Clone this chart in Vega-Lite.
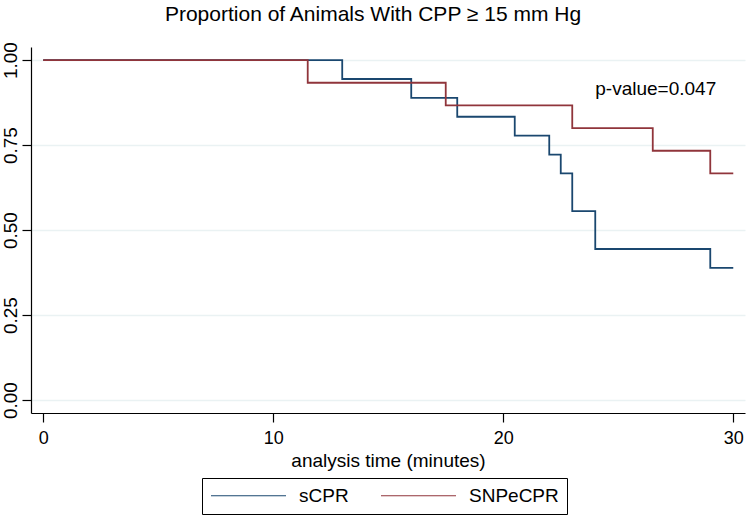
{
  "$schema": "https://vega.github.io/schema/vega-lite/v6.json",
  "autosize": "none",
  "width": 714,
  "height": 366,
  "padding": {"left": 31, "top": 47, "right": 2, "bottom": 104},
  "background": "white",
  "config": {
    "font": "Liberation Sans",
    "view": {"stroke": null},
    "axis": {"labelFont": "Liberation Sans", "titleFont": "Liberation Sans", "labelColor": "black", "titleColor": "black", "domainColor": "black", "tickColor": "black", "titleFontWeight": "normal"}
  },
  "title": {"text": "Proportion of Animals With CPP ≥ 15 mm Hg", "fontSize": 21, "fontWeight": "normal", "font": "Liberation Sans", "color": "black", "anchor": "middle", "frame": "group", "baseline": "bottom", "offset": 20, "dy": 24, "dx": -15},
  "datasets": {
    "km": [
      {"group": "sCPR", "time": 0, "surv": 1},
      {"group": "sCPR", "time": 13, "surv": 0.9444},
      {"group": "sCPR", "time": 16, "surv": 0.8889},
      {"group": "sCPR", "time": 18, "surv": 0.8333},
      {"group": "sCPR", "time": 20.5, "surv": 0.7778},
      {"group": "sCPR", "time": 22, "surv": 0.7222},
      {"group": "sCPR", "time": 22.5, "surv": 0.6667},
      {"group": "sCPR", "time": 23, "surv": 0.5556},
      {"group": "sCPR", "time": 24, "surv": 0.4444},
      {"group": "sCPR", "time": 29, "surv": 0.3889},
      {"group": "sCPR", "time": 30, "surv": 0.3889},
      {"group": "SNPeCPR", "time": 0, "surv": 1},
      {"group": "SNPeCPR", "time": 11.5, "surv": 0.9333},
      {"group": "SNPeCPR", "time": 17.5, "surv": 0.8667},
      {"group": "SNPeCPR", "time": 23, "surv": 0.8},
      {"group": "SNPeCPR", "time": 26.5, "surv": 0.7333},
      {"group": "SNPeCPR", "time": 29, "surv": 0.6667},
      {"group": "SNPeCPR", "time": 30, "surv": 0.6667}
    ],
    "note": [{"time": 24, "surv": 0.915, "label": "p-value=0.047"}]
  },
  "layer": [
    {
      "data": {"name": "km"},
      "mark": {"type": "line", "interpolate": "step-after", "strokeWidth": 1.8},
      "encoding": {
        "x": {"field": "time", "type": "quantitative", "scale": {"domain": [-0.53, 30.51], "nice": false, "zero": false},
          "axis": {"title": "analysis time (minutes)", "values": [0, 10, 20, 30], "grid": false, "labelFontSize": 18, "titleFontSize": 19, "tickSize": 9, "labelPadding": 7, "titlePadding": 4, "domainWidth": 1.2, "tickWidth": 1.2}},
        "y": {"field": "surv", "type": "quantitative", "scale": {"domain": [-0.038, 1.0385], "nice": false, "zero": false},
          "axis": {"title": null, "values": [0, 0.25, 0.5, 0.75, 1], "format": ".2f", "labelAngle": -90, "labelAlign": "center", "labelBaseline": "alphabetic", "labelFontSize": 19, "tickSize": 9, "labelPadding": 6, "grid": true, "gridColor": "#eaf2f3", "gridWidth": 1.5, "domainWidth": 1.2, "tickWidth": 1.2}},
        "color": {"field": "group", "type": "nominal",
          "scale": {"domain": ["sCPR", "SNPeCPR"], "range": ["#1a476f", "#90353b"]},
          "legend": {"title": null, "orient": "none", "legendX": 171, "legendY": 431, "direction": "horizontal", "columns": 2,
            "symbolType": "M-3.4,0H26.6", "symbolSize": 25, "symbolStrokeWidth": 1.2, "labelFontSize": 19, "labelFont": "Liberation Sans", "labelColor": "black",
            "labelOffset": 70, "columnPadding": 29, "strokeColor": "black", "padding": 8, "fillColor": "white"}}
      }
    },
    {
      "data": {"name": "note"},
      "mark": {"type": "text", "align": "left", "baseline": "middle", "fontSize": 19, "font": "Liberation Sans", "color": "black"},
      "encoding": {
        "x": {"field": "time", "type": "quantitative"},
        "y": {"field": "surv", "type": "quantitative"},
        "text": {"field": "label"}
      }
    }
  ]
}
